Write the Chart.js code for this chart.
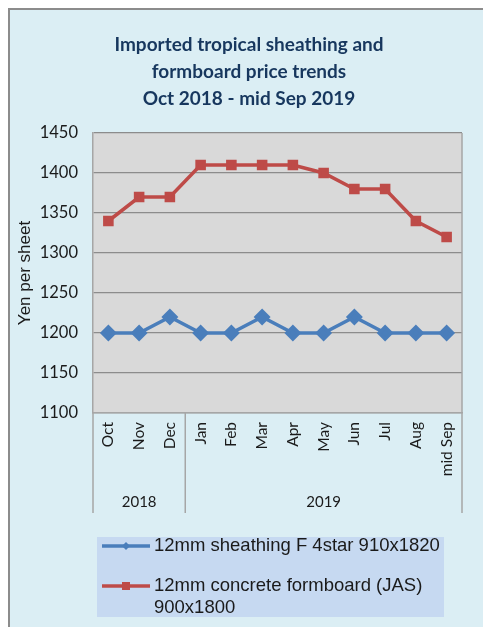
<!DOCTYPE html>
<html>
<head>
<meta charset="utf-8">
<script src="https://cdn.jsdelivr.net/npm/chart.js@4"></script>
<style>
  html, body { margin: 0; padding: 0; background: #fff; }
  #wrap { position: absolute; left: 0; top: 0; width: 483px; height: 627px; overflow: hidden; }
  #frame { position: absolute; left: 8px; top: 8px; width: 500px; height: 640px;
           background: #dbeef4; border: 2px solid #8c8c8c; }
  canvas { position: absolute; left: 0; top: 0; }
</style>
</head>
<body>
<div id="wrap">
  <div id="frame"></div>
  <canvas id="myChart" width="483" height="627"></canvas>
</div>
<script>
(() => {
  'use strict'

  const titleLines = ['Imported tropical sheathing and', 'formboard price trends', 'Oct 2018 - mid Sep 2019']
  const months = ['Oct', 'Nov', 'Dec', 'Jan', 'Feb', 'Mar', 'Apr', 'May', 'Jun', 'Jul', 'Aug', 'mid Sep']
  const years = ['2018', '2019']
  const yearCounts = [3, 9]
  const sheathing = [1200, 1200, 1220, 1200, 1200, 1220, 1200, 1200, 1220, 1200, 1200, 1200]
  const formboard = [1340, 1370, 1370, 1410, 1410, 1410, 1410, 1400, 1380, 1380, 1340, 1320]
  const yTicks = [1100, 1150, 1200, 1250, 1300, 1350, 1400, 1450]

  const BLUE = '#4a7ebb'
  const RED = '#be4b48'

  // plot background, borders, year groups, title and legend
  const extras = {
    id: 'extras',
    beforeDraw(chart) {
      const { ctx, chartArea: a } = chart
      ctx.save()
      ctx.fillStyle = '#d9d9d9'
      ctx.fillRect(a.left, a.top, a.right - a.left, a.bottom - a.top)
      ctx.restore()
    },
    afterDraw(chart) {
      const { ctx, chartArea: a } = chart
      const x = chart.scales.x
      ctx.save()

      // right border of plot
      ctx.strokeStyle = '#a6a6a6'
      ctx.lineWidth = 1.5
      ctx.beginPath()
      ctx.moveTo(a.right, a.top)
      ctx.lineTo(a.right, a.bottom)
      ctx.stroke()

      // year group separators and labels
      const half = (x.getPixelForValue(1) - x.getPixelForValue(0)) / 2
      let start = 0
      const bottom = a.bottom + 100
      ctx.beginPath()
      ctx.moveTo(a.left, a.bottom)
      ctx.lineTo(a.left, bottom)
      ctx.stroke()
      ctx.font = '15px Lato'
      ctx.fillStyle = '#1a1a1a'
      ctx.textAlign = 'center'
      ctx.textBaseline = 'middle'
      years.forEach((yr, i) => {
        const end = start + yearCounts[i] - 1
        const x0 = x.getPixelForValue(start) - half
        const x1 = x.getPixelForValue(end) + half
        ctx.beginPath()
        ctx.moveTo(x1, a.bottom)
        ctx.lineTo(x1, bottom)
        ctx.stroke()
        ctx.fillText(yr, (x0 + x1) / 2, a.bottom + 89)
        start = end + 1
      })

      // title
      ctx.font = 'bold 19px Lato'
      ctx.fillStyle = '#17375e'
      titleLines.forEach((t, i) => ctx.fillText(t, 249, 45 + i * 27))

      // legend
      ctx.fillStyle = '#c6d9f1'
      ctx.fillRect(97, 537, 347, 80)
      ctx.font = '18.5px "Liberation Sans"'
      ctx.textAlign = 'left'
      const rows = [546, 586]
      chart.data.datasets.forEach((ds, i) => {
        const y = rows[i]
        ctx.strokeStyle = ds.borderColor
        ctx.lineWidth = 3.5
        ctx.beginPath()
        ctx.moveTo(102, y)
        ctx.lineTo(150, y)
        ctx.stroke()
        ctx.fillStyle = ds.borderColor
        if (ds.pointStyle === 'rect') {
          ctx.fillRect(122, y - 4, 8, 8)
        } else {
          ctx.beginPath()
          ctx.moveTo(126, y - 4)
          ctx.lineTo(130, y)
          ctx.lineTo(126, y + 4)
          ctx.lineTo(122, y)
          ctx.closePath()
          ctx.fill()
        }
        ctx.fillStyle = '#1a1a1a'
        // simple word wrap
        const words = ds.label.split(' ')
        let line = ''
        let ly = y
        words.forEach(w => {
          const test = line ? line + ' ' + w : w
          if (ctx.measureText(test).width > 288 && line) {
            ctx.fillText(line, 154, ly)
            line = w
            ly += 22
          } else {
            line = test
          }
        })
        ctx.fillText(line, 154, ly)
      })
      ctx.restore()
    }
  }

  const ctx = document.getElementById('myChart')
  // eslint-disable-next-line no-unused-vars
  const myChart = new Chart(ctx, {
    type: 'line',
    data: {
      labels: months,
      datasets: [{
        label: '12mm sheathing F 4star 910x1820',
        data: sheathing,
        borderColor: BLUE,
        backgroundColor: BLUE,
        borderWidth: 3.5,
        pointStyle: 'rectRot',
        pointRadius: 6,
        pointHoverRadius: 6
      }, {
        label: '12mm concrete formboard (JAS) 900x1800',
        data: formboard,
        borderColor: RED,
        backgroundColor: RED,
        borderWidth: 3.5,
        pointStyle: 'rect',
        pointRadius: 5,
        pointHoverRadius: 5
      }]
    },
    options: {
      responsive: false,
      animation: false,
      layout: { padding: { top: 133, left: 0, right: 21, bottom: 114 } },
      plugins: {
        legend: { display: false },
        tooltip: { enabled: false }
      },
      scales: {
        x: {
          offset: true,
          grid: { display: false, drawTicks: false },
          border: { color: '#a6a6a6', width: 1.5 },
          ticks: {
            minRotation: 90,
            maxRotation: 90,
            padding: 9,
            color: '#1a1a1a',
            font: { family: 'Lato', size: 15.5 }
          },
          afterFit(scale) { scale.height = 100 }
        },
        y: {
          min: 1100,
          max: 1450,
          afterBuildTicks(scale) { scale.ticks = yTicks.map(v => ({ value: v })) },
          grid: { color: '#8c8c8c', lineWidth: 1.3, drawTicks: false },
          border: { color: '#a6a6a6', width: 1.5 },
          ticks: {
            padding: 15,
            color: '#1a1a1a',
            font: { family: 'Lato', size: 16.5 },
            callback: v => String(v)
          },
          title: {
            display: true,
            text: 'Yen per sheet',
            color: '#1a1a1a',
            font: { family: 'Liberation Sans', size: 17 },
            padding: { top: 15, bottom: 0 }
          },
          afterFit(scale) { scale.width = 93 }
        }
      }
    },
    plugins: [extras]
  })
})()
</script>
</body>
</html>
